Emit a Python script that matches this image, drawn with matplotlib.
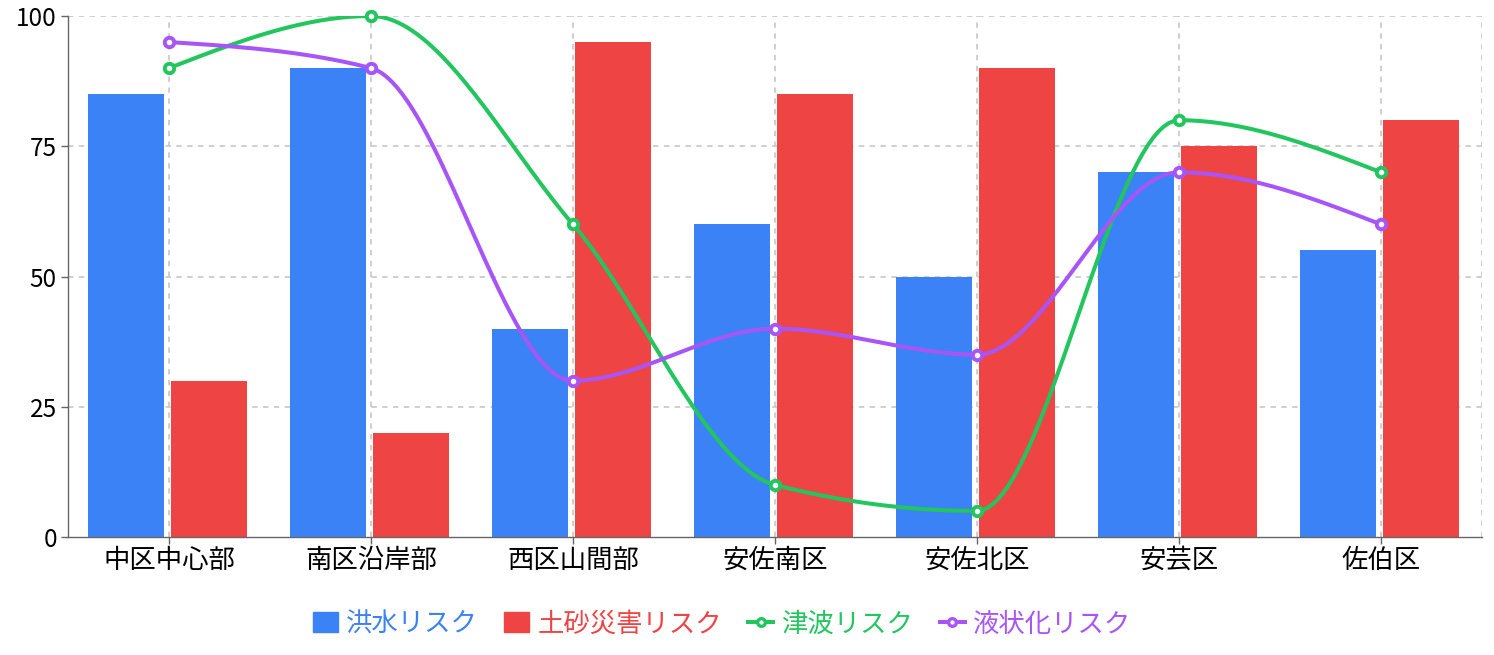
import numpy as np
import matplotlib
matplotlib.use("Agg")
import matplotlib.pyplot as plt
from matplotlib.patches import Patch
from matplotlib.lines import Line2D

plt.rcParams['font.family'] = ['Noto Sans CJK JP', 'DejaVu Sans']

# data
districts = ['中区中心部', '南区沿岸部', '西区山間部', '安佐南区', '安佐北区', '安芸区', '佐伯区']
flood = [85, 90, 40, 60, 50, 70, 55]
landslide = [30, 20, 95, 85, 90, 75, 80]
tsunami = [90, 100, 60, 10, 5, 80, 70]
liquefaction = [95, 90, 30, 40, 35, 70, 60]

series_names = ['洪水リスク', '土砂災害リスク', '津波リスク', '液状化リスク']
c_blue, c_red, c_green, c_purple = '#3b82f6', '#ef4444', '#22c55e', '#a855f7'


def monotone_x(xs, ys, n=40):
    # d3 curveMonotoneX
    xs = np.asarray(xs, float)
    ys = np.asarray(ys, float)
    h = np.diff(xs)
    s = np.diff(ys) / h
    t = np.zeros(len(xs))
    for i in range(1, len(xs) - 1):
        s0, s1 = s[i - 1], s[i]
        p = (s0 * h[i] + s1 * h[i - 1]) / (h[i - 1] + h[i])
        t[i] = (np.sign(s0) + np.sign(s1)) * min(abs(s0), abs(s1), 0.5 * abs(p))
    t[0] = (3 * s[0] - t[1]) / 2
    t[-1] = (3 * s[-1] - t[-2]) / 2
    px, py = [], []
    for i in range(len(xs) - 1):
        dx = h[i] / 3
        P0 = (xs[i], ys[i])
        P1 = (xs[i] + dx, ys[i] + dx * t[i])
        P2 = (xs[i + 1] - dx, ys[i + 1] - dx * t[i + 1])
        P3 = (xs[i + 1], ys[i + 1])
        u = np.linspace(0, 1, n)
        bx = (1 - u) ** 3 * P0[0] + 3 * (1 - u) ** 2 * u * P1[0] + 3 * (1 - u) * u ** 2 * P2[0] + u ** 3 * P3[0]
        by = (1 - u) ** 3 * P0[1] + 3 * (1 - u) ** 2 * u * P1[1] + 3 * (1 - u) * u ** 2 * P2[1] + u ** 3 * P3[1]
        px.extend(bx)
        py.extend(by)
    return np.array(px), np.array(py)


fig = plt.figure(figsize=(14.94, 6.55), dpi=100)
ax = fig.add_axes([68 / 1494, 1 - 537 / 655, (1482 - 68) / 1494, (537 - 16) / 655])

x = np.arange(len(districts))
ax.set_xlim(-0.5, len(districts) - 0.5)
ax.set_ylim(0, 100)

# grid
for yv in [25, 50, 75, 100]:
    ax.axhline(yv, color='#cccccc', lw=1.3, ls=(0, (3, 3)), zorder=0)
for xv in list(x) + [len(districts) - 0.5]:
    ax.axvline(xv, color='#cccccc', lw=1.3, ls=(0, (3, 3)), zorder=0)

bw = 0.376
ax.bar(x - 0.213, flood, bw, color=c_blue, zorder=2)
ax.bar(x + 0.198, landslide, bw, color=c_red, zorder=2)

for vals, col in [(tsunami, c_green), (liquefaction, c_purple)]:
    cx, cy = monotone_x(x, vals)
    ax.plot(cx, cy, color=col, lw=2.9, zorder=3, solid_capstyle='round')
    ax.plot(x, vals, 'o', ms=6.8, mfc='white', mec=col, mew=2.8, zorder=4, clip_on=False)

for sp in ['top', 'right']:
    ax.spines[sp].set_visible(False)
for sp in ['left', 'bottom']:
    ax.spines[sp].set_color('#666666')
    ax.spines[sp].set_linewidth(1.0)

ax.set_yticks([0, 25, 50, 75, 100])
ax.set_xticks(x)
ax.set_xticklabels(districts)
ax.tick_params(axis='both', colors='#666666', length=5, width=1.0, labelcolor='black')
ax.tick_params(axis='x', labelsize=19, pad=2)
ax.tick_params(axis='y', labelsize=17.5, pad=3)

handles = [
    Patch(color=c_blue),
    Patch(color=c_red),
    Line2D([0], [0], color=c_green, lw=2.9, marker='o', ms=5.5, mfc='white', mec=c_green, mew=2.4),
    Line2D([0], [0], color=c_purple, lw=2.9, marker='o', ms=5.5, mfc='white', mec=c_purple, mew=2.4),
]
fig.legend(handles, series_names, loc='center', bbox_to_anchor=(722 / 1494, 1 - 624 / 655),
           ncol=4, frameon=False, fontsize=19, labelcolor=[c_blue, c_red, c_green, c_purple],
           handlelength=0.95, handleheight=0.8, handletextpad=0.3, columnspacing=1.0)

fig.savefig('out.png', dpi=100)
